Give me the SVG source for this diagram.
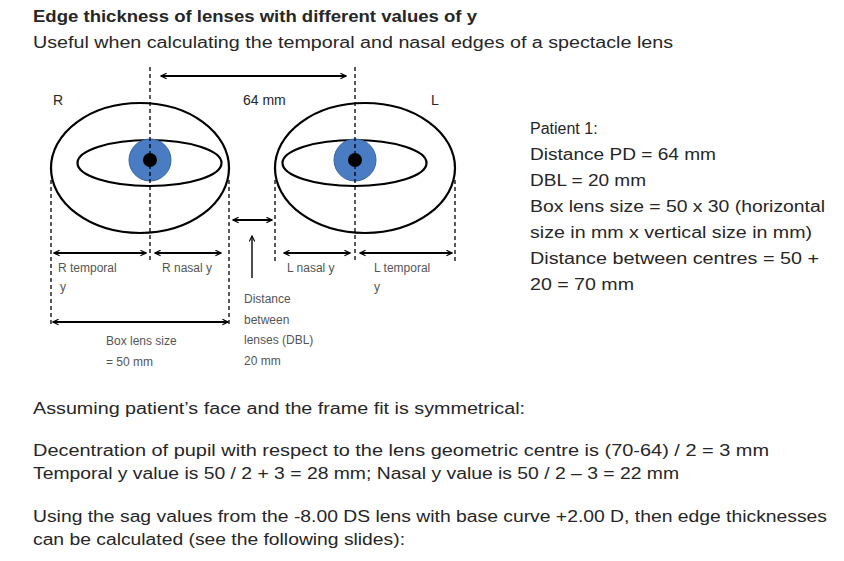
<svg xmlns="http://www.w3.org/2000/svg" width="844" height="561" viewBox="0 0 844 561">
<defs>
<marker id="ah" viewBox="0 0 10 10" refX="9" refY="5" markerWidth="7" markerHeight="7" orient="auto-start-reverse" markerUnits="userSpaceOnUse"><path d="M1,1 L9,5 L1,9" fill="none" stroke="#000" stroke-width="1.6"/></marker>
</defs>
<style>
text{font-family:"Liberation Sans",Arial,sans-serif;fill:#262626}
.t{font-size:16px}
.s{font-size:12px;fill:#555}
.lens{fill:none;stroke:#000;stroke-width:2.2}
.dash{stroke:#000;stroke-width:1.3;stroke-dasharray:4 3;fill:none}
.arr{stroke:#000;stroke-width:1.8;fill:none;marker-start:url(#ah);marker-end:url(#ah)}
</style>
<rect width="844" height="561" fill="#fff"/>
<text class="t" x="33" y="22" font-weight="bold" textLength="444" lengthAdjust="spacingAndGlyphs">Edge thickness of lenses with different values of y</text>
<text class="t" x="33" y="48" textLength="640" lengthAdjust="spacingAndGlyphs">Useful when calculating the temporal and nasal edges of a spectacle lens</text>

<g id="lensR">
<ellipse class="lens" cx="140" cy="168" rx="89" ry="65"/>
<ellipse class="lens" cx="149.5" cy="163" rx="72" ry="23"/>
<circle cx="150" cy="160" r="21" fill="#4a7cc4" stroke="#3a63a0" stroke-width="1"/>
<circle cx="150" cy="160" r="7" fill="#000"/>
<text x="53" y="105" style="font-size:14px">R</text>
</g>
<g id="lensL">
<ellipse class="lens" cx="365" cy="168" rx="90" ry="65"/>
<ellipse class="lens" cx="354.5" cy="163" rx="72" ry="23"/>
<circle cx="355" cy="160" r="21" fill="#4a7cc4" stroke="#3a63a0" stroke-width="1"/>
<circle cx="355" cy="160" r="7" fill="#000"/>
<text x="431" y="105" style="font-size:14px">L</text>
</g>

<g id="connectors">
<path class="dash" d="M150,67V263M355,67V263M51,180V327M229,180V327M275,180V263M455,180V263"/>
<path class="arr" d="M161,76H346"/>
<path class="arr" d="M233,220H272"/>
<path d="M252,278V236" stroke="#000" stroke-width="1.4" fill="none" marker-end="url(#ah)"/>
<path class="arr" d="M54,253H146"/>
<path class="arr" d="M155,253H221"/>
<path class="arr" d="M284,253H350"/>
<path class="arr" d="M360,253H452"/>
<path class="arr" d="M53,322H228"/>
</g>

<g id="labels">
<text x="243" y="105" style="font-size:14px">64 mm</text>
<text class="s" x="58" y="272">R temporal</text>
<text class="s" x="60" y="291">y</text>
<text class="s" x="162" y="272">R nasal y</text>
<text class="s" x="287" y="272">L nasal y</text>
<text class="s" x="374" y="272">L temporal</text>
<text class="s" x="374" y="291">y</text>
<text class="s" x="106" y="345">Box lens size</text>
<text class="s" x="106" y="366">= 50 mm</text>
<text class="s" x="244" y="303">Distance</text>
<text class="s" x="244" y="324">between</text>
<text class="s" x="244" y="344">lenses (DBL)</text>
<text class="s" x="244" y="365">20 mm</text>
</g>

<g id="patient">
<text class="t" x="530" y="134">Patient 1:</text>
<text class="t" x="530" y="160" textLength="186" lengthAdjust="spacingAndGlyphs">Distance PD = 64 mm</text>
<text class="t" x="530" y="186" textLength="116" lengthAdjust="spacingAndGlyphs">DBL = 20 mm</text>
<text class="t" x="530" y="212" textLength="295" lengthAdjust="spacingAndGlyphs">Box lens size = 50 x 30 (horizontal</text>
<text class="t" x="530" y="238" textLength="282" lengthAdjust="spacingAndGlyphs">size in mm x vertical size in mm)</text>
<text class="t" x="530" y="264" textLength="289" lengthAdjust="spacingAndGlyphs">Distance between centres = 50 +</text>
<text class="t" x="530" y="290" textLength="104" lengthAdjust="spacingAndGlyphs">20 = 70 mm</text>
</g>

<g id="notes">
<text class="t" x="33" y="414" textLength="492" lengthAdjust="spacingAndGlyphs">Assuming patient’s face and the frame fit is symmetrical:</text>
<text class="t" x="33" y="456" textLength="736" lengthAdjust="spacingAndGlyphs">Decentration of pupil with respect to the lens geometric centre is (70-64) / 2 = 3 mm</text>
<text class="t" x="33" y="479" textLength="646" lengthAdjust="spacingAndGlyphs">Temporal y value is 50 / 2 + 3 = 28 mm; Nasal y value is 50 / 2 – 3 = 22 mm</text>
<text class="t" x="33" y="522" textLength="794" lengthAdjust="spacingAndGlyphs">Using the sag values from the -8.00 DS lens with base curve +2.00 D, then edge thicknesses</text>
<text class="t" x="33" y="545" textLength="372" lengthAdjust="spacingAndGlyphs">can be calculated (see the following slides):</text>
</g>
</svg>
